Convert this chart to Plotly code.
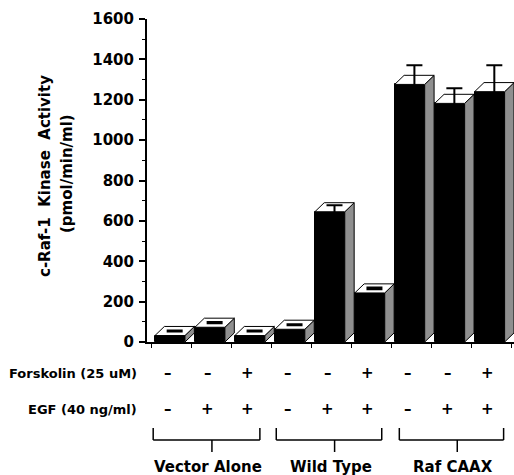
import plotly.graph_objects as go

# ---------------- data ----------------
groups = ["Vector Alone", "Wild Type", "Raf CAAX"]
forskolin = ["–", "–", "+", "–", "–", "+", "–", "–", "+"]
egf = ["–", "+", "+", "–", "+", "+", "–", "+", "+"]
activity = [32, 73, 32, 63, 645, 243, 1276, 1182, 1240]
error = [3, 3, 3, 3, 10, 4, 73, 52, 109]
y_ticks = [0, 200, 400, 600, 800, 1000, 1200, 1400, 1600]
y_title = ["c-Raf-1&nbsp; Kinase&nbsp; Activity", "(pmol/min/ml)"]
row_labels = ["Forskolin (25 uM)", "EGF (40 ng/ml)"]

# ---------------- geometry (styling) ----------------
n = len(activity)
shift = -0.05
halfw = 0.375
ddx = 0.235
ddy = 45
xc = [i + shift for i in range(n)]
FONT = "DejaVu Sans"

fig = go.Figure()

# front faces
fig.add_trace(go.Bar(
    x=xc, y=activity, width=2 * halfw,
    marker=dict(color="black", line=dict(color="black", width=1)),
    hoverinfo="skip", showlegend=False,
))

# side faces
sx, sy = [], []
for c, v in zip(xc, activity):
    r = c + halfw
    sx += [r, r + ddx, r + ddx, r, r, None]
    sy += [0, ddy, v + ddy, v, 0, None]
fig.add_trace(go.Scatter(
    x=sx, y=sy, mode="lines", fill="toself",
    line=dict(color="black", width=1),
    fillcolor="#8c8c8c",
    fillpattern=dict(shape=".", size=2, solidity=0.5, fgcolor="#333333", bgcolor="#a8a8a8"),
    hoverinfo="skip", showlegend=False,
))

# top faces
tx, ty = [], []
for c, v in zip(xc, activity):
    l, r = c - halfw, c + halfw
    tx += [l, l + ddx, r + ddx, r, l, None]
    ty += [v, v + ddy, v + ddy, v, v, None]
fig.add_trace(go.Scatter(
    x=tx, y=ty, mode="lines", fill="toself",
    line=dict(color="black", width=1), fillcolor="white",
    hoverinfo="skip", showlegend=False,
))

# error bars (at centre of top face)
err_minus = [e + ddy / 2 if e > 8 else e for e in error]
fig.add_trace(go.Scatter(
    x=[c + ddx / 2 for c in xc], y=[v + ddy / 2 for v in activity],
    mode="markers", marker=dict(size=2, color="rgba(0,0,0,0)"),
    error_y=dict(type="data", array=error, arrayminus=err_minus, symmetric=False,
                 color="black", thickness=2, width=8),
    hoverinfo="skip", showlegend=False,
))

# ---------------- annotations ----------------
ann = []
def pyp(px):
    return (342 - px) / 323.0

ann.append(dict(text=y_title[0], xref="paper", yref="paper", x=(45 - 147) / 367.0, y=pyp(176),
                textangle=-90, showarrow=False, xanchor="center", yanchor="middle",
                font=dict(family=FONT, size=15, color="black", weight="bold")))
ann.append(dict(text=y_title[1], xref="paper", yref="paper", x=(67 - 147) / 367.0, y=pyp(174),
                textangle=-90, showarrow=False, xanchor="center", yanchor="middle",
                font=dict(family=FONT, size=15, color="black", weight="bold")))

for lab, py in zip(row_labels, [373, 409]):
    ann.append(dict(text=lab, xref="paper", yref="paper", x=(139 - 147) / 367.0, y=pyp(py),
                    showarrow=False, xanchor="right", yanchor="middle",
                    font=dict(family=FONT, size=13, color="black", weight="bold")))
for row, py in zip([forskolin, egf], [373, 409]):
    for c, s in zip(xc, row):
        ann.append(dict(text=s, xref="x", yref="paper", x=c - 0.05, y=pyp(py),
                        showarrow=False, xanchor="center", yanchor="middle",
                        font=dict(family=FONT, size=15, color="black", weight="bold")))

shapes = []
for k, g in enumerate(groups):
    left = 3 * k - 0.47 + 0.08 * k
    right = 3 * k + 2.2 + 0.05 * k
    mid = 3 * k + 1.0 + 0.07 * k
    line = dict(color="black", width=1.5)
    shapes.append(dict(type="line", xref="x", yref="paper", x0=left, x1=left, y0=pyp(428), y1=pyp(440), line=line))
    shapes.append(dict(type="line", xref="x", yref="paper", x0=right, x1=right, y0=pyp(428), y1=pyp(440), line=line))
    shapes.append(dict(type="line", xref="x", yref="paper", x0=left, x1=right, y0=pyp(440), y1=pyp(440), line=line))
    shapes.append(dict(type="line", xref="x", yref="paper", x0=mid, x1=mid, y0=pyp(440), y1=pyp(452), line=line))
    ann.append(dict(text=g, xref="x", yref="paper", x=mid - 0.1, y=pyp(467),
                    showarrow=False, xanchor="center", yanchor="middle",
                    font=dict(family=FONT, size=15, color="black", weight="bold")))

fig.update_layout(
    width=514, height=475, autosize=False,
    margin=dict(l=147, r=0, t=19, b=133, pad=0),
    paper_bgcolor="white", plot_bgcolor="white",
    showlegend=False, bargap=0,
    annotations=ann, shapes=shapes,
    xaxis=dict(range=[-0.625, 8.56], showline=True, linewidth=2, linecolor="black",
               tickvals=[i - 0.5 for i in range(n + 1)], ticktext=[""] * (n + 1),
               ticks="outside", ticklen=4, tickwidth=1, tickcolor="black",
               showgrid=False, zeroline=False, fixedrange=True),
    yaxis=dict(range=[0, 1600], showline=True, linewidth=2, linecolor="black",
               tickvals=y_ticks, ticktext=[str(t) for t in y_ticks],
               ticks="outside", ticklen=6, tickwidth=1.5, tickcolor="black",
               ticklabelstandoff=2,
               minor=dict(tick0=0, dtick=100, ticks="outside", ticklen=3, tickwidth=1,
                          tickcolor="black", showgrid=False),
               tickfont=dict(family=FONT, size=15, color="black", weight="bold"),
               showgrid=False, zeroline=False, fixedrange=True),
)

fig.write_html("out.html", config={"displayModeBar": False},
               post_script="document.body.style.margin='0';document.body.style.overflow='hidden';")
